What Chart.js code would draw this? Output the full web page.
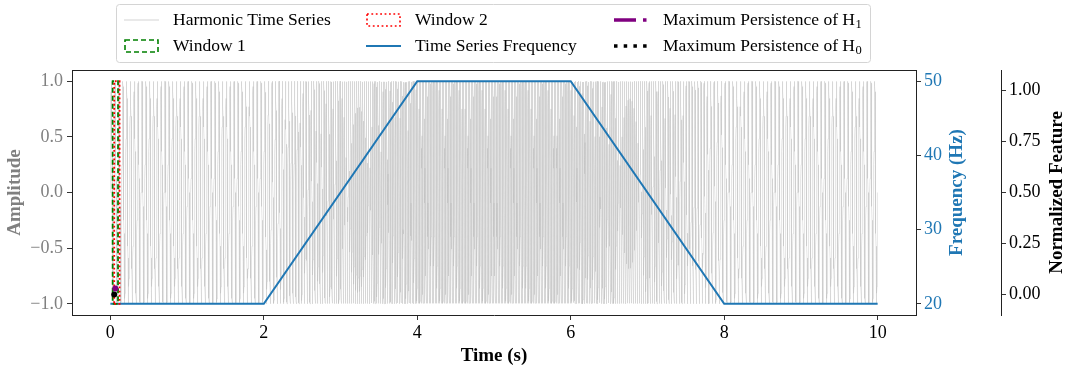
<!DOCTYPE html>
<html>
<head>
<meta charset="utf-8">
<title>Harmonic sweep with sliding windows</title>
<script src="https://cdn.jsdelivr.net/npm/chart.js@4.4.1/dist/chart.umd.min.js"></script>
<style>
  html, body { margin: 0; padding: 0; background: #ffffff; }
  canvas { display: block; }
</style>
</head>
<body>
<canvas id="chart" width="1066" height="369"></canvas>
<script>
// Frequency profile of the sweep: knots of the piecewise-linear frequency (s, Hz)
const sweepTimes = [0, 2, 4, 6, 8, 10];
const sweepFreqs = [20, 20, 50, 50, 20, 20];
const sampleRate = 1000; // samples per second of the harmonic signal

// First two sliding windows: [start, end] in seconds, amplitude span
const window1Span = [0.03, 0.10];
const window2Span = [0.05, 0.12];
const windowAmplitude = [-1, 1];

// Normalized topological features of the first window
const h1Times = [0.065];
const h1Values = [0.03];
const h0Times = [0.05];
const h0Values = [0.0];

// Tick values
const timeTicks = [0, 2, 4, 6, 8, 10];
const amplitudeTicks = [-1, -0.5, 0, 0.5, 1];
const frequencyTicks = [20, 30, 40, 50];
const featureTicks = [0, 0.25, 0.5, 0.75, 1];

// Series names (a trailing _n is drawn as a subscript)
const seriesLabels = [
  'Harmonic Time Series',
  'Window 1',
  'Window 2',
  'Time Series Frequency',
  'Maximum Persistence of H_1',
  'Maximum Persistence of H_0'
];

const SERIF = "'Liberation Serif', 'Times New Roman', serif";
const BLUE = '#1f77b4';

// Instantaneous frequency along the sweep profile
function sweepFreqAt(t) {
  for (let i = 0; i < sweepTimes.length - 1; i++) {
    if (t <= sweepTimes[i + 1]) {
      const f = (t - sweepTimes[i]) / (sweepTimes[i + 1] - sweepTimes[i]);
      return sweepFreqs[i] + f * (sweepFreqs[i + 1] - sweepFreqs[i]);
    }
  }
  return sweepFreqs[sweepFreqs.length - 1];
}

// Harmonic signal whose phase follows the sweep profile
const harmonicPoints = [];
{
  let phase = 0;
  const n = Math.round(sweepTimes[sweepTimes.length - 1] * sampleRate);
  for (let k = 0; k <= n; k++) {
    const t = k / sampleRate;
    harmonicPoints.push({ x: t, y: Math.sin(phase) });
    phase += 2 * Math.PI * sweepFreqAt(t) / sampleRate;
  }
}

const frequencyPoints = sweepTimes.map((t, i) => ({ x: t, y: sweepFreqs[i] }));

function rectangle(span, amp) {
  return [
    { x: span[0], y: amp[0] }, { x: span[1], y: amp[0] },
    { x: span[1], y: amp[1] }, { x: span[0], y: amp[1] },
    { x: span[0], y: amp[0] }
  ];
}

const minus = s => s.replace('-', '\u2212');

const tickFont = { family: SERIF, size: 18 };

function axisGrid(color) {
  return { display: true, drawOnChartArea: false, drawTicks: true, tickLength: 5, color: color, lineWidth: 1 };
}

// Axis titles (vertical ones read bottom-to-top) and the top frame edge
const decorations = {
  id: 'decorations',
  beforeDatasetsDraw(chart) {
    const { ctx, chartArea } = chart;
    ctx.save();
    ctx.strokeStyle = '#222';
    ctx.lineWidth = 1;
    ctx.beginPath();
    ctx.moveTo(chartArea.left, chartArea.top + 0.5);
    ctx.lineTo(chartArea.right, chartArea.top + 0.5);
    ctx.stroke();
    ctx.restore();
  },
  afterDraw(chart) {
    const { ctx, chartArea, scales } = chart;
    const midY = (chartArea.top + chartArea.bottom) / 2;
    const vTitle = (text, x, color) => {
      ctx.save();
      ctx.translate(x, midY);
      ctx.rotate(-Math.PI / 2);
      ctx.font = 'bold 19px ' + SERIF;
      ctx.fillStyle = color;
      ctx.textAlign = 'center';
      ctx.textBaseline = 'middle';
      ctx.fillText(text, 0, 0);
      ctx.restore();
    };
    vTitle('Amplitude', 15, '#808080');
    vTitle('Frequency (Hz)', scales.yFreq.left + 41, BLUE);
    vTitle('Normalized Feature', scales.yNorm.left + 56, '#000');

    ctx.save();
    ctx.font = 'bold 19px ' + SERIF;
    ctx.fillStyle = '#000';
    ctx.textAlign = 'center';
    ctx.textBaseline = 'middle';
    ctx.fillText('Time (s)', (chartArea.left + chartArea.right) / 2, 356);
    ctx.restore();
  }
};

// Three-column legend above the plot
const legendBox = {
  id: 'legendBox',
  afterDraw(chart) {
    const { ctx } = chart;
    const ds = chart.data.datasets;
    const box = { x: 116.5, y: 4.5, w: 754, h: 58 };
    ctx.save();
    ctx.fillStyle = '#fff';
    ctx.strokeStyle = '#d4d4d4';
    ctx.lineWidth = 1;
    ctx.beginPath();
    ctx.roundRect(box.x, box.y, box.w, box.h, 3);
    ctx.fill();
    ctx.stroke();

    const cols = [124, 366, 614];
    const rows = [20, 46];
    const handleLen = 35;
    const textGap = 14;
    // column-major order
    const slots = [[0, 0], [0, 1], [1, 0], [1, 1], [2, 0], [2, 1]];
    ds.forEach((d, i) => {
      const [c, r] = slots[i];
      const x0 = cols[c];
      const y = rows[r];
      ctx.save();
      ctx.strokeStyle = d.legendColor || d.borderColor;
      ctx.lineWidth = d.legendWidth || d.borderWidth;
      ctx.setLineDash(d.legendDash || []);
      ctx.lineCap = 'butt';
      if (d.legendBox) {
        ctx.strokeRect(x0 + 1, y - 6, handleLen - 2, 12);
      } else {
        ctx.beginPath();
        ctx.moveTo(x0, y);
        ctx.lineTo(x0 + handleLen, y);
        ctx.stroke();
      }
      ctx.restore();

      const m = d.label.match(/^(.*)_(\d)$/);
      const main = m ? m[1] : d.label;
      ctx.font = '17.5px ' + SERIF;
      ctx.fillStyle = '#000';
      ctx.textAlign = 'left';
      ctx.textBaseline = 'middle';
      const tx = x0 + handleLen + textGap;
      ctx.fillText(main, tx, y);
      if (m) {
        const w = ctx.measureText(main).width;
        ctx.font = '12.5px ' + SERIF;
        ctx.fillText(m[2], tx + w + 0.5, y + 5);
      }
    });
    ctx.restore();
  }
};

const chart = new Chart(document.getElementById('chart'), {
  type: 'line',
  data: {
    datasets: [
      {
        label: seriesLabels[0],
        data: harmonicPoints,
        yAxisID: 'yAmp',
        borderColor: 'rgba(185,185,185,0.45)',
        legendColor: 'rgba(200,200,200,0.8)',
        borderWidth: 0.8,
        legendWidth: 1,
        pointRadius: 0,
        order: 6
      },
      {
        label: seriesLabels[1],
        data: rectangle(window1Span, windowAmplitude),
        yAxisID: 'yAmp',
        borderColor: '#008000',
        borderWidth: 1.8,
        borderDash: [5, 3],
        legendDash: [5, 3],
        legendWidth: 1.6,
        legendBox: true,
        pointRadius: 0,
        order: 4
      },
      {
        label: seriesLabels[2],
        data: rectangle(window2Span, windowAmplitude),
        yAxisID: 'yAmp',
        borderColor: '#ff0000',
        borderWidth: 1.8,
        borderDash: [1.8, 2.4],
        legendDash: [1.8, 2.6],
        legendWidth: 1.6,
        legendBox: true,
        pointRadius: 0,
        order: 3
      },
      {
        label: seriesLabels[3],
        data: frequencyPoints,
        yAxisID: 'yFreq',
        borderColor: BLUE,
        borderWidth: 2,
        pointRadius: 0,
        order: 5
      },
      {
        label: seriesLabels[4],
        data: h1Times.map((t, i) => ({ x: t, y: h1Values[i] })),
        yAxisID: 'yNorm',
        borderColor: '#800080',
        backgroundColor: '#800080',
        borderWidth: 3.5,
        borderDash: [22, 7, 3.5, 7],
        legendDash: [22, 7, 3.5, 7],
        pointRadius: 3,
        pointBorderWidth: 0,
        order: 1
      },
      {
        label: seriesLabels[5],
        data: h0Times.map((t, i) => ({ x: t, y: h0Values[i] })),
        yAxisID: 'yNorm',
        borderColor: '#000000',
        backgroundColor: '#000000',
        borderWidth: 3.5,
        borderDash: [3.5, 6.2],
        legendDash: [3.5, 6.2],
        pointRadius: 3,
        pointBorderWidth: 0,
        order: 0
      }
    ]
  },
  options: {
    responsive: false,
    animation: false,
    events: [],
    parsing: false,
    layout: { padding: { top: 70, left: 0, right: 0, bottom: 0 } },
    elements: { line: { tension: 0 } },
    plugins: {
      legend: { display: false },
      tooltip: { enabled: false },
      title: { display: false }
    },
    scales: {
      x: {
        type: 'linear',
        position: 'bottom',
        min: -0.5,
        max: 10.5,
        afterBuildTicks: s => { s.ticks = timeTicks.map(v => ({ value: v })); },
        afterFit: s => { s.height = 54; },
        ticks: { font: tickFont, color: '#000', padding: 2, maxRotation: 0, autoSkip: false,
                 callback: v => minus(String(v)) },
        grid: axisGrid('#333'),
        border: { display: true, color: '#222', width: 1 }
      },
      yAmp: {
        type: 'linear',
        position: 'left',
        min: -1.1,
        max: 1.1,
        afterBuildTicks: s => { s.ticks = amplitudeTicks.map(v => ({ value: v })); },
        afterFit: s => { s.width = 72; },
        ticks: { font: tickFont, color: '#808080', padding: 4, autoSkip: false,
                 callback: v => minus(v.toFixed(1)) },
        grid: axisGrid('#333'),
        border: { display: true, color: '#222', width: 1 }
      },
      yFreq: {
        type: 'linear',
        position: 'right',
        weight: 1,
        min: 18.5,
        max: 51.5,
        afterBuildTicks: s => { s.ticks = frequencyTicks.map(v => ({ value: v })); },
        afterFit: s => { s.width = 85; },
        ticks: { font: tickFont, color: BLUE, padding: 3, autoSkip: false,
                 callback: v => String(v) },
        grid: axisGrid('#333'),
        border: { display: true, color: '#222', width: 1 }
      },
      yNorm: {
        type: 'linear',
        position: 'right',
        weight: 2,
        min: -0.1,
        max: 1.1,
        afterBuildTicks: s => { s.ticks = featureTicks.map(v => ({ value: v })); },
        afterFit: s => { s.width = 65; },
        ticks: { font: tickFont, color: '#000', padding: 3, autoSkip: false,
                 callback: v => v.toFixed(2) },
        grid: axisGrid('#333'),
        border: { display: true, color: '#222', width: 1 }
      }
    }
  },
  plugins: [decorations, legendBox]
});
</script>
</body>
</html>
